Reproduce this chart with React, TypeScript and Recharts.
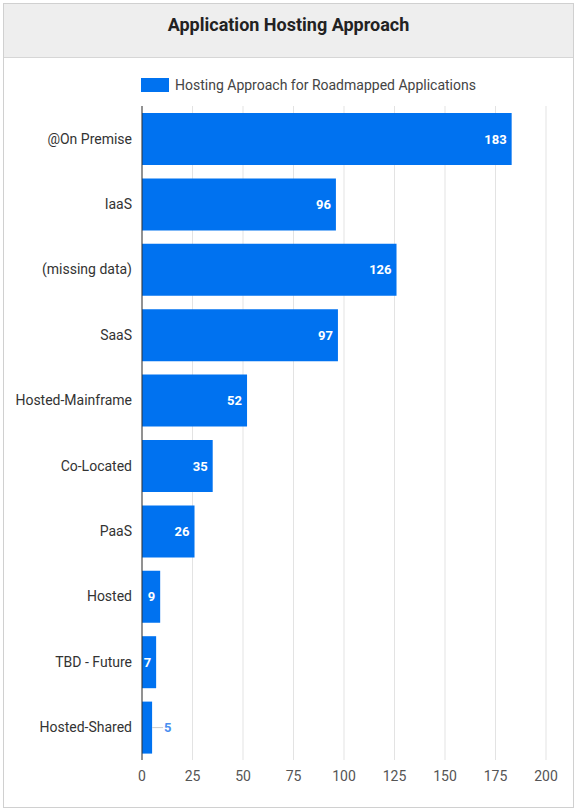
import { BarChart, Bar, XAxis, YAxis, CartesianGrid, LabelList } from "recharts";

const categories = [
  "@On Premise",
  "IaaS",
  "(missing data)",
  "SaaS",
  "Hosted-Mainframe",
  "Co-Located",
  "PaaS",
  "Hosted",
  "TBD - Future",
  "Hosted-Shared",
];
const counts = [183, 96, 126, 97, 52, 35, 26, 9, 7, 5];
const xTicks = [0, 25, 50, 75, 100, 125, 150, 175, 200];

const seriesName = "Hosting Approach for Roadmapped Applications";
const barColor = "#0072f0";

const data = categories.map((name, i) => ({ name, value: counts[i] }));

function ValueLabel(props: any) {
  const { x, y, width, height, value } = props;
  const cy = y + height / 2;
  const text = String(value);
  const textW = text.length * 8 + 4;
  if (width > textW) {
    return (
      <text
        x={x + width - 5}
        y={cy}
        dy="0.35em"
        textAnchor="end"
        fill="#fff"
        fontSize={13}
        fontWeight="bold"
      >
        {text}
      </text>
    );
  }
  return (
    <g>
      <line x1={x + width} y1={cy} x2={x + width + 11} y2={cy} stroke="#ccc" strokeWidth={1} />
      <text x={x + width + 12} y={cy} dy="0.35em" fill="#4a8ff0" fontSize={13} fontWeight="bold">
        {text}
      </text>
    </g>
  );
}

export default function App() {
  return (
    <div
      style={{
        position: "absolute",
        left: 0,
        top: 0,
        width: 576,
        height: 809,
        background: "#fff",
        fontFamily: "Roboto, sans-serif",
      }}
    >
      <div
        style={{
          position: "absolute",
          left: 3,
          top: 3,
          width: 569,
          height: 803,
          border: "1px solid #d0d0d0",
        }}
      />
      <div
        style={{
          position: "absolute",
          left: 4,
          top: 4,
          width: 569,
          height: 54,
          background: "#eeeeee",
          borderBottom: "1px solid #d6d6d6",
          display: "flex",
          alignItems: "center",
          justifyContent: "center",
          boxSizing: "border-box",
          paddingBottom: 12,
          fontSize: 18,
          fontWeight: "bold",
          color: "#222",
        }}
      >
        Application Hosting Approach
      </div>
      <div
        style={{
          position: "absolute",
          left: 141,
          top: 77,
          display: "flex",
          alignItems: "center",
          fontSize: 14,
          color: "#444",
        }}
      >
        <span style={{ display: "inline-block", width: 28, height: 14, background: barColor, marginRight: 6 }} />
        {seriesName}
      </div>
      <div style={{ position: "absolute", left: 0, top: 60 }}>
        <BarChart
          width={576}
          height={740}
          data={data}
          layout="vertical"
          margin={{ top: 46, right: 30, bottom: 10, left: 0 }}
        >
          <CartesianGrid horizontal={false} stroke="#e3e3e3" />
          <XAxis
            type="number"
            domain={[0, 200]}
            ticks={xTicks}
            axisLine={false}
            tickLine={false}
            tickSize={0}
            tickMargin={11}
            height={30}
            tick={{ fontSize: 14, fill: "#555" }}
          />
          <YAxis
            type="category"
            dataKey="name"
            width={142}
            axisLine={{ stroke: "#333" }}
            tickLine={false}
            tickSize={0}
            tickMargin={10}
            interval={0}
            tick={{ fontSize: 14, fill: "#333" }}
          />
          <Bar dataKey="value" name={seriesName} fill={barColor} barSize={52} isAnimationActive={false}>
            <LabelList dataKey="value" content={ValueLabel} />
          </Bar>
        </BarChart>
      </div>
    </div>
  );
}
